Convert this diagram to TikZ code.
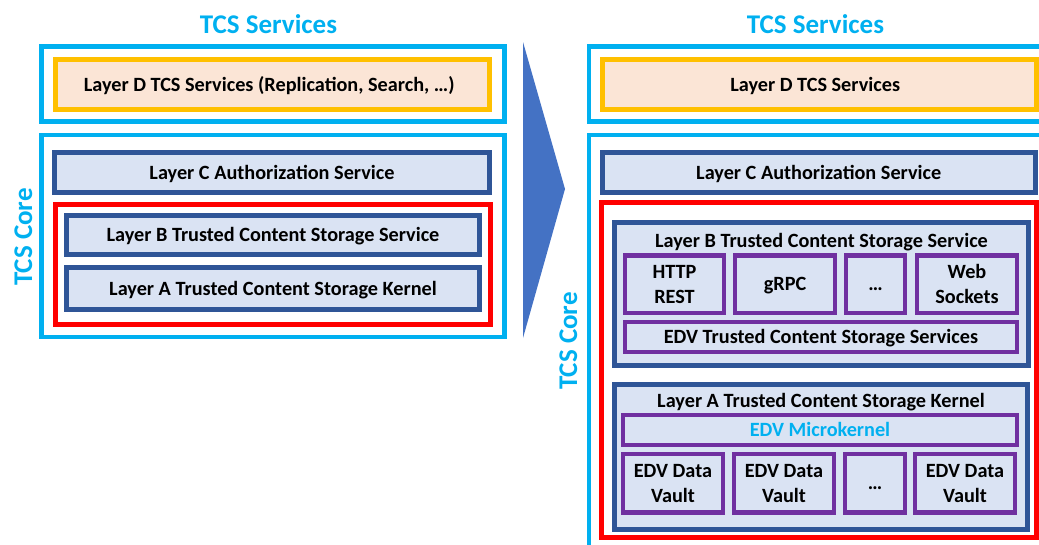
\documentclass[tikz,border=0pt]{standalone}
\usepackage{fontspec}
\setmainfont{Carlito}
\definecolor{tcscyan}{HTML}{00B0F0}
\definecolor{layerblue}{HTML}{2F5597}
\definecolor{layerfill}{HTML}{DAE3F3}
\definecolor{dorange}{HTML}{FFC000}
\definecolor{dfill}{HTML}{FBE5D6}
\definecolor{edvpurple}{HTML}{7030A0}
\definecolor{arrowblue}{HTML}{4472C4}
\tikzset{
  txt/.style={font=\fontsize{20.25}{25}\selectfont\bfseries, inner sep=0pt, outer sep=0pt, align=center},
  one/.style={text height=13pt, text depth=0pt},
  ttl/.style={font=\fontsize{27}{30}\selectfont\bfseries, text=tcscyan, inner sep=0pt, outer sep=0pt},
  cyanbox/.style={draw=tcscyan, line width=4.5pt, inner sep=0pt},
  orangebox/.style={txt, one, draw=dorange, fill=dfill, line width=5pt},
  bluebox/.style={txt, draw=layerblue, fill=layerfill, line width=5pt},
  redbox/.style={draw=red, line width=5pt, inner sep=0pt},
  purplebox/.style={txt, draw=edvpurple, fill=layerfill, line width=4.5pt},
  wh/.style n args={2}{minimum width=#1pt, minimum height=#2pt}
}
\begin{document}
\begin{tikzpicture}[x=1pt, y=-1pt]
\useasboundingbox (0,0) rectangle (1039,544);
\begin{scope}
\clip (0,0) rectangle (1039,544);
% ---------- left ----------
\node[ttl, anchor=base] (ltitle) at (268.5,33) {TCS Services};
\node[cyanbox, wh={463}{75}] (lsvc) at (273,84) {};
\node[orangebox, wh={434.5}{50}] (ld) at (272.25,84.5) {\hspace*{-6pt}Layer D TCS Services (Replication, Search, …)};
\node[cyanbox, wh={463}{202}] (lcore) at (273,236) {};
\node[bluebox, one, wh={435}{40}] (lc) at (272,172.5) {Layer C Authorization Service};
\node[redbox, wh={435}{120.5}] (lred) at (272.5,264.25) {};
\node[bluebox, one, wh={413}{39}] (lb) at (273,235) {Layer B Trusted Content Storage Service};
\node[bluebox, one, wh={413}{42}] (la) at (273,288.5) {Layer A Trusted Content Storage Kernel};
\node[ttl, anchor=base, rotate=90] (lcoretxt) at (32,237) {TCS Core};
% ---------- arrow ----------
\fill[arrowblue] (523,42) -- (565,189) -- (523,338) -- cycle;
% ---------- right ----------
\node[ttl, anchor=base] (rtitle) at (815.5,33) {TCS Services};
\node[cyanbox, wh={452}{75}] (rsvc) at (815,84) {};
\node[orangebox, wh={434.5}{50}] (rd) at (819.25,84.5) {\hspace*{-8pt}Layer D TCS Services};
\node[cyanbox, wh={452}{425}] (rcore) at (815,347.5) {};
\node[bluebox, one, wh={433.5}{40}] (rc) at (818.75,172.5) {Layer C Authorization Service};
\node[redbox, wh={435}{335}] (rred) at (819,370) {};
\node[bluebox, wh={414}{143}] (rb) at (821.5,294) {};
\node[txt, anchor=base] (rbt) at (821.5,247) {Layer B Trusted Content Storage Service};
\node[purplebox, wh={99}{57.7}] (http) at (674.5,284.15) {HTTP\\REST};
\node[purplebox, one, wh={100}{57.7}] (grpc) at (785,284.15) {gRPC};
\node[purplebox, one, wh={59}{57.7}] (rdots) at (875.5,284.15) {…};
\node[purplebox, wh={100}{57.7}] (ws) at (967,284.15) {Web\\Sockets};
\node[purplebox, one, wh={392}{30}] (edvs) at (821,337) {EDV Trusted Content Storage Services};
\node[bluebox, wh={413}{145}] (ra) at (821,457) {};
\node[txt, anchor=base] (rat) at (821,407) {Layer A Trusted Content Storage Kernel};
\node[purplebox, one, wh={394}{30}, text=tcscyan] (micro) at (820,430) {EDV Microkernel};
\node[purplebox, wh={100}{58.5}] (v1) at (673,483.25) {EDV Data\\Vault};
\node[purplebox, wh={100}{58.5}] (v2) at (784,483.25) {EDV Data\\Vault};
\node[purplebox, one, wh={60}{58.5}] (v3) at (875,483.25) {…};
\node[purplebox, wh={100}{58.5}] (v4) at (965,483.25) {EDV Data\\Vault};
\node[ttl, anchor=base, rotate=90] (rcoretxt) at (577,341) {TCS Core};
\end{scope}
\end{tikzpicture}
\end{document}
